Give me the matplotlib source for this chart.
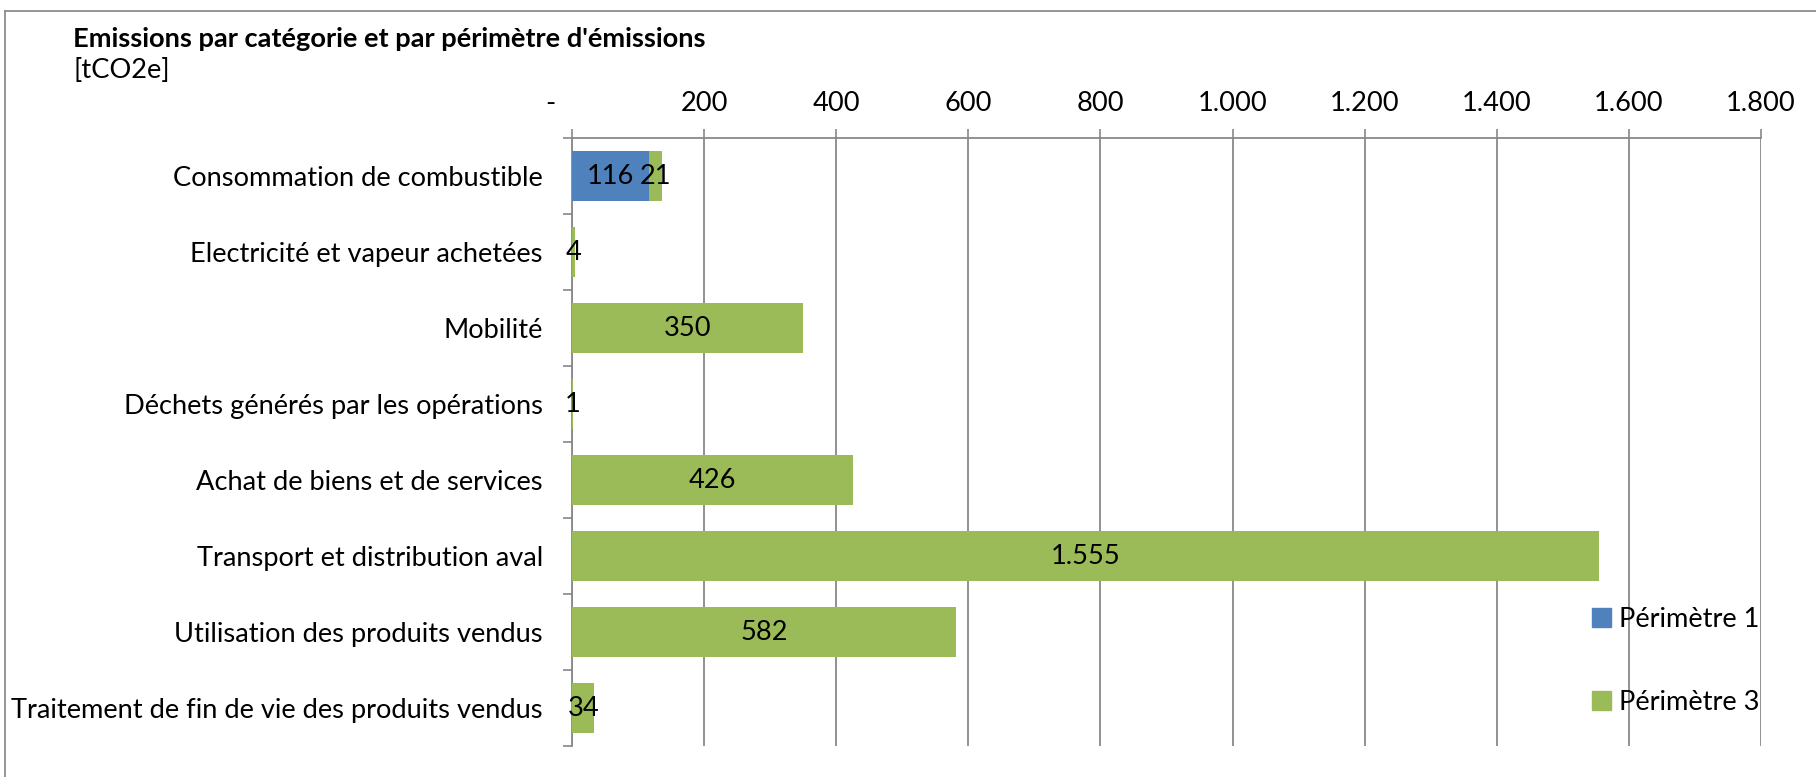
import numpy as np
import matplotlib.pyplot as plt
import matplotlib.ticker as mticker
from matplotlib.lines import Line2D
from matplotlib.patches import Patch

categories = [
    "Consommation de combustible",
    "Electricité et vapeur achetées",
    "Mobilité",
    "Déchets générés par les opérations",
    "Achat de biens et de services",
    "Transport et distribution aval",
    "Utilisation des produits vendus",
    "Traitement de fin de vie des produits vendus",
]
perimetre_1 = [116, 0, 0, 0, 0, 0, 0, 0]
perimetre_3 = [21, 4, 350, 1, 426, 1555, 582, 34]
series_names = ["Périmètre 1", "Périmètre 3"]

BLUE = "#4F81BD"
GREEN = "#9BBB59"
GRID = "#898989"
FS = 19.6

plt.rcParams["font.family"] = ["Lato", "DejaVu Sans"]

fig = plt.figure(figsize=(18.16, 7.77), dpi=100)
ax = fig.add_axes([572 / 1816, 1 - 746 / 777, (1761 - 572) / 1816, (746 - 138) / 777])

y = np.arange(len(categories))
p1 = np.array(perimetre_1)
p3 = np.array(perimetre_3)

b1 = ax.barh(y, p1, height=0.66, color=BLUE, zorder=3)
b3 = ax.barh(y, p3, left=p1, height=0.66, color=GREEN, zorder=3)


def fmt_value(v):
    return f"{v:,.0f}".replace(",", ".") if v else ""


ax.bar_label(b1, labels=[fmt_value(v) for v in p1], label_type="center", fontsize=FS, zorder=4)
ax.bar_label(b3, labels=[fmt_value(v) for v in p3], label_type="center", fontsize=FS, zorder=4)

ax.set_ylim(len(categories) - 0.5, -0.5)
ax.set_xlim(0, 1800)

# value axis on top, thousands with a dot, zero shown as a dash
ax.xaxis.tick_top()
ax.xaxis.set_major_locator(mticker.MultipleLocator(200))
ax.xaxis.set_major_formatter(
    mticker.FuncFormatter(lambda v, _p: "-      " if v == 0 else f"{v:,.0f}".replace(",", "."))
)
ax.tick_params(axis="x", which="major", direction="out", length=6.5, width=1.2,
               color=GRID, labelsize=FS, pad=9)
ax.grid(axis="x", color=GRID, linewidth=1.3, zorder=0)

# category axis: labels at centres, tick marks between categories
ax.set_yticks(y)
ax.set_yticklabels(categories, fontsize=FS)
ax.set_yticks(np.arange(len(categories) + 1) - 0.5, minor=True)
ax.tick_params(axis="y", which="major", length=0, pad=21)
ax.tick_params(axis="y", which="minor", direction="out", length=6.5, width=1.2, color=GRID)

for side in ("right", "bottom"):
    ax.spines[side].set_visible(False)
for side in ("top", "left"):
    ax.spines[side].set_color(GRID)
    ax.spines[side].set_linewidth(1.3)

fig.text(73 / 1816, 1 - 39 / 777, "Emissions par catégorie et par périmètre d'émissions",
         fontsize=FS, fontweight="bold", va="center", ha="left")
fig.text(73 / 1816, 1 - 70 / 777, "[tCO2e]", fontsize=FS, va="center", ha="left")

handles = [Patch(color=BLUE), Patch(color=GREEN)]
fig.legend(handles, series_names, loc="center left",
           bbox_to_anchor=(1592 / 1816, 1 - 661 / 777), frameon=False, fontsize=FS,
           handlelength=0.7, handleheight=0.7, handletextpad=0.3, labelspacing=2.1,
           borderpad=0, borderaxespad=0)

# outer chart frame
fig.add_artist(Line2D([5 / 1816, 1], [1 - 10.5 / 777] * 2, color="#8c8c8c", lw=1.3))
fig.add_artist(Line2D([5 / 1816] * 2, [0, 1 - 10.5 / 777], color="#8c8c8c", lw=1.3))

fig.savefig("out.png", dpi=100)
